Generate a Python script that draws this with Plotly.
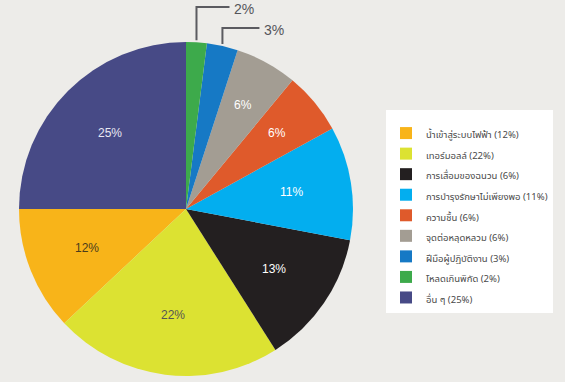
import math
import plotly.graph_objects as go

# Data (legend order; drawn counter-clockwise from 9 o'clock)
labels = [
    "น้ำเข้าสู่ระบบไฟฟ้า (12%)",
    "เทอร์มอลล์ (22%)",
    "การเสื่อมของฉนวน (6%)",
    "การบำรุงรักษาไม่เพียงพอ (11%)",
    "ความชื้น (6%)",
    "จุดต่อหลุดหลวม (6%)",
    "ฝีมือผู้ปฏิบัติงาน (3%)",
    "โหลดเกินพิกัด (2%)",
    "อื่น ๆ (25%)",
]
values = [12, 22, 13, 11, 6, 6, 3, 2, 25]
colors = ["#F8B419", "#DCE232", "#231F20", "#03AEEF", "#DF5A2B",
          "#A39D93", "#1679C5", "#3DAA4B", "#474A86"]
text_colors = ["#4a3c1c", "#555555", "#ffffff", "#ffffff", "#ffffff",
               "#ffffff", "#ffffff", "#ffffff", "#e8e8f2"]
outside_slices = [6, 7]  # small slices labelled with leader lines

W, H = 565, 382
cx, cy, r = 186.0, 209.0, 167.0  # pie centre / radius in pixels
dom_x = [(cx - r) / W, (cx + r) / W]
dom_y = [(H - cy - r) / H, (H - cy + r) / H]

total = sum(values)
start_deg = 270  # 9 o'clock, measured clockwise from 12
# plotly puts the first slice clockwise of `rotation` when counter-clockwise
rotation = start_deg - 360 * values[0] / total

fig = go.Figure(go.Pie(
    labels=[f'<span style="font-size:9.5px">{l}</span>' for l in labels],
    values=values,
    sort=False,
    direction="counterclockwise",
    rotation=rotation,
    marker=dict(colors=colors, line=dict(width=0)),
    textinfo="none",
    domain=dict(x=dom_x, y=dom_y),
    hoverinfo="label+percent",
))

px = lambda x: x / W
py = lambda y: (H - y) / H
shapes, annotations = [], []
pct_font = "Liberation Sans, Arial, sans-serif"

# percentage labels placed at each slice's mid-angle (derived from data)
label_rise = {6: 14, 7: 35}   # px above the pie top for the leader line
line_run = {6: 37, 7: 33}     # horizontal run length in px
for i, v in enumerate(values):
    start = sum(values[:i]) / total
    mid = start + v / total / 2
    ang = math.radians(180 + 360 * mid)   # counter-clockwise from 9 o'clock
    if i in outside_slices:
        x0 = cx + r * math.cos(ang)
        y0 = cy - r * math.sin(ang)
        ytop = (cy - r) - label_rise[i]
        x1 = x0 + line_run[i]
        shapes.append(dict(type="path", xref="paper", yref="paper",
                           path=f"M {px(x0)} {py(y0 - 2)} L {px(x0)} {py(ytop)} L {px(x1)} {py(ytop)}",
                           line=dict(color="#5b5b60", width=2)))
        annotations.append(dict(x=px(x1 + 3), y=py(ytop + 2), xref="paper", yref="paper",
                                text=f"{v}%", showarrow=False, xanchor="left", yanchor="middle",
                                font=dict(size=14, color="#55555a", family=pct_font)))
    else:
        rf = 0.64 if v >= 10 else 0.71
        tx = cx + rf * r * math.cos(ang)
        ty = cy - rf * r * math.sin(ang)
        annotations.append(dict(x=px(tx), y=py(ty), xref="paper", yref="paper",
                                text=f"{v}%", showarrow=False, xanchor="center", yanchor="middle",
                                font=dict(size=12, color=text_colors[i], family=pct_font)))

fig.update_layout(
    width=W, height=H,
    margin=dict(l=0, r=0, t=0, b=0),
    paper_bgcolor="#EDECE9",
    plot_bgcolor="#EDECE9",
    shapes=shapes,
    annotations=annotations,
    showlegend=True,
    legend=dict(
        x=386 / W, y=(H - 110) / H, xanchor="left", yanchor="top",
        bgcolor="#FFFFFF", borderwidth=0,
        font=dict(size=13.5, color="#4a4a4a", family="Noto Sans Thai, Liberation Sans, sans-serif"),
        title=dict(text=" ", font=dict(size=6)),
        itemwidth=30,
        entrywidth=132,
        traceorder="normal",
    ),
)

fig.write_html("out.html",
               config={"displayModeBar": False},
               post_script="document.body.style.margin='0';document.body.style.background='#EDECE9';")
